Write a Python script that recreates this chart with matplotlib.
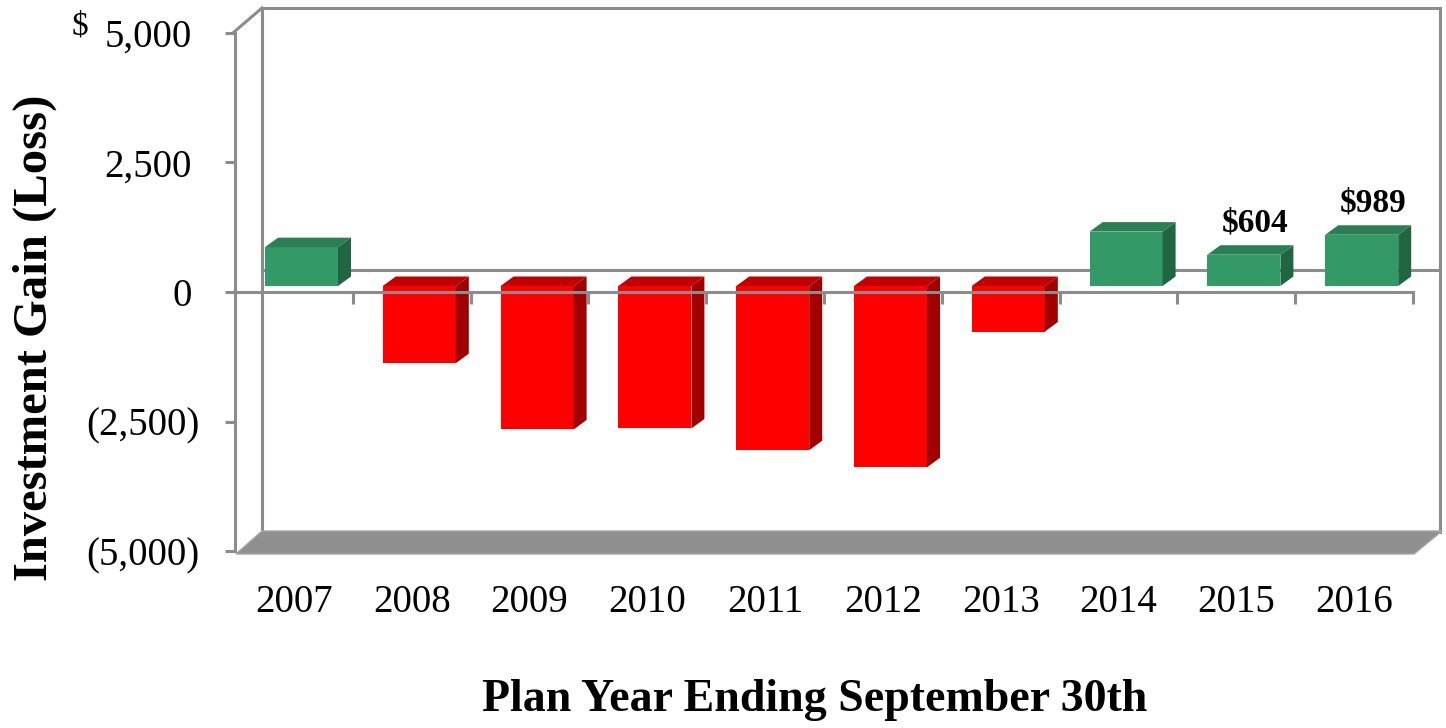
import matplotlib
matplotlib.use("Agg")
import matplotlib.pyplot as plt
import matplotlib.transforms as mtransforms
from matplotlib.patches import Polygon

# ---------------- data ----------------
years = ["2007", "2008", "2009", "2010", "2011", "2012", "2013", "2014", "2015", "2016"]
gains = [750, -1490, -2770, -2750, -3170, -3500, -880, 1050, 604, 989]
labelled_years = ["2015", "2016"]
y_ticks = [-5000, -2500, 0, 2500, 5000]
y_tick_labels = ["(5,000)", "(2,500)", "0", "2,500", "5,000"]
x_title = "Plan Year Ending September 30th"
y_title = "Investment Gain (Loss)"

# ---------------- style ----------------
plt.rcParams['font.family'] = ['Liberation Serif', 'DejaVu Serif']
W, H = 1446, 728
GREY = '#8c8c8c'
LW = 2.2
GREEN = ('#339966', '#2b7f55', '#1f6641')   # front, top, side
RED = ('#ff0000', '#c00000', '#a00000')

fig = plt.figure(figsize=(W / 100, H / 100), dpi=100)
ax = fig.add_axes([235 / W, 1 - 551 / H, 1178 / W, 518 / H])
n = len(years)
ax.set_xlim(0, n)
ax.set_ylim(-5000, 5000)
ax.patch.set_visible(False)

PX = mtransforms.Affine2D().scale(1, -1).translate(0, H)   # top-left pixel coords
ID = mtransforms.IdentityTransform()
units_per_px = 10000 / 518.0

# ---------------- walls / floor ----------------
wall = Polygon([(262, 8), (1440, 8), (1440, 532), (262, 532)], closed=True,
               transform=PX, facecolor='white', edgecolor=GREY, lw=LW,
               zorder=0, clip_on=False)
ax.add_patch(wall)
ax.plot([262, 1441], [270, 270], transform=PX, color=GREY, lw=LW,
        zorder=0.5, clip_on=False, solid_capstyle='butt')
ax.plot([234, 262], [32, 8], transform=PX, color=GREY, lw=LW,
        zorder=0.5, clip_on=False)
floor = Polygon([(236, 554), (262, 531), (1442, 531), (1414, 554)], closed=True,
                transform=PX, facecolor='#8f8f8f', edgecolor='#a6a6a6', lw=1.0,
                zorder=0.6, clip_on=False)
ax.add_patch(floor)

# ---------------- bars ----------------
BAR_OFF = 30 / 117.8
BAR_W = 73 / 117.8
BASE = 6 * units_per_px
DX, DY = 13, 9.5
x_left = [i + BAR_OFF for i in range(n)]
front_cols = [GREEN[0] if v >= 0 else RED[0] for v in gains]
bars = ax.bar(x_left, gains, width=BAR_W, bottom=BASE, align='edge',
              color=front_cols, linewidth=0, zorder=1)

for xl, v in zip(x_left, gains):
    pal = GREEN if v >= 0 else RED
    ylo, yhi = min(BASE, BASE + v), max(BASE, BASE + v)
    (X0, YLO), (X1, YHI) = ax.transData.transform([(xl, ylo), (xl + BAR_W, yhi)])
    top = Polygon([(X0, YHI), (X1, YHI), (X1 + DX, YHI + DY), (X0 + DX, YHI + DY)],
                  closed=True, transform=ID, facecolor=pal[1], edgecolor='none',
                  zorder=1, clip_on=False)
    side = Polygon([(X1, YLO), (X1 + DX, YLO + DY), (X1 + DX, YHI + DY), (X1, YHI)],
                   closed=True, transform=ID, facecolor=pal[2], edgecolor='none',
                   zorder=1, clip_on=False)
    ax.add_patch(top)
    ax.add_patch(side)

for yr, xl, v in zip(years, x_left, gains):
    if yr in labelled_years:
        ax.annotate(f"${v:,}", xy=(xl + BAR_W / 2, BASE + v), xytext=(11, 23),
                    textcoords='offset pixels', ha='center', va='baseline',
                    fontsize=24, fontweight='bold', color='black')

# ---------------- axes ----------------
for s in ['top', 'right']:
    ax.spines[s].set_visible(False)
ax.spines['left'].set_color(GREY)
ax.spines['left'].set_linewidth(LW)
ax.spines['bottom'].set_position(('data', 0))
ax.spines['bottom'].set_color(GREY)
ax.spines['bottom'].set_linewidth(LW)

ax.set_xticks(range(1, n + 1))
ax.set_xticklabels([])
ax.tick_params(axis='x', direction='out', length=8.6, width=LW, color=GREY)

ax.set_yticks(y_ticks, y_tick_labels)
ax.tick_params(axis='y', direction='out', length=7.2, width=LW, color=GREY,
               pad=18, labelsize=28)
for lab, v in zip(ax.get_yticklabels(), y_ticks):
    if v >= 0:
        lab.set_transform(lab.get_transform() +
                          mtransforms.ScaledTranslation(-8 / 100, 0, fig.dpi_scale_trans))

sec = ax.secondary_xaxis('bottom')
sec.set_xticks([i + 0.5 for i in range(n)], years)
sec.tick_params(length=0, pad=24, labelsize=28)
sec.spines['bottom'].set_visible(False)

ax.text(80, 26, "$", transform=PX, ha='center', va='center', fontsize=24)

ax.set_ylabel(y_title, fontsize=35, fontweight='bold', ha='center', va='center')
ax.yaxis.set_label_coords(35, 338, transform=PX)
ax.set_xlabel(x_title, fontsize=33, fontweight='bold', ha='center', va='baseline')
ax.xaxis.set_label_coords(815, 711, transform=PX)

ax.set_xlim(0, n)
ax.set_ylim(-5000, 5000)
fig.savefig("out.png", dpi=100)
